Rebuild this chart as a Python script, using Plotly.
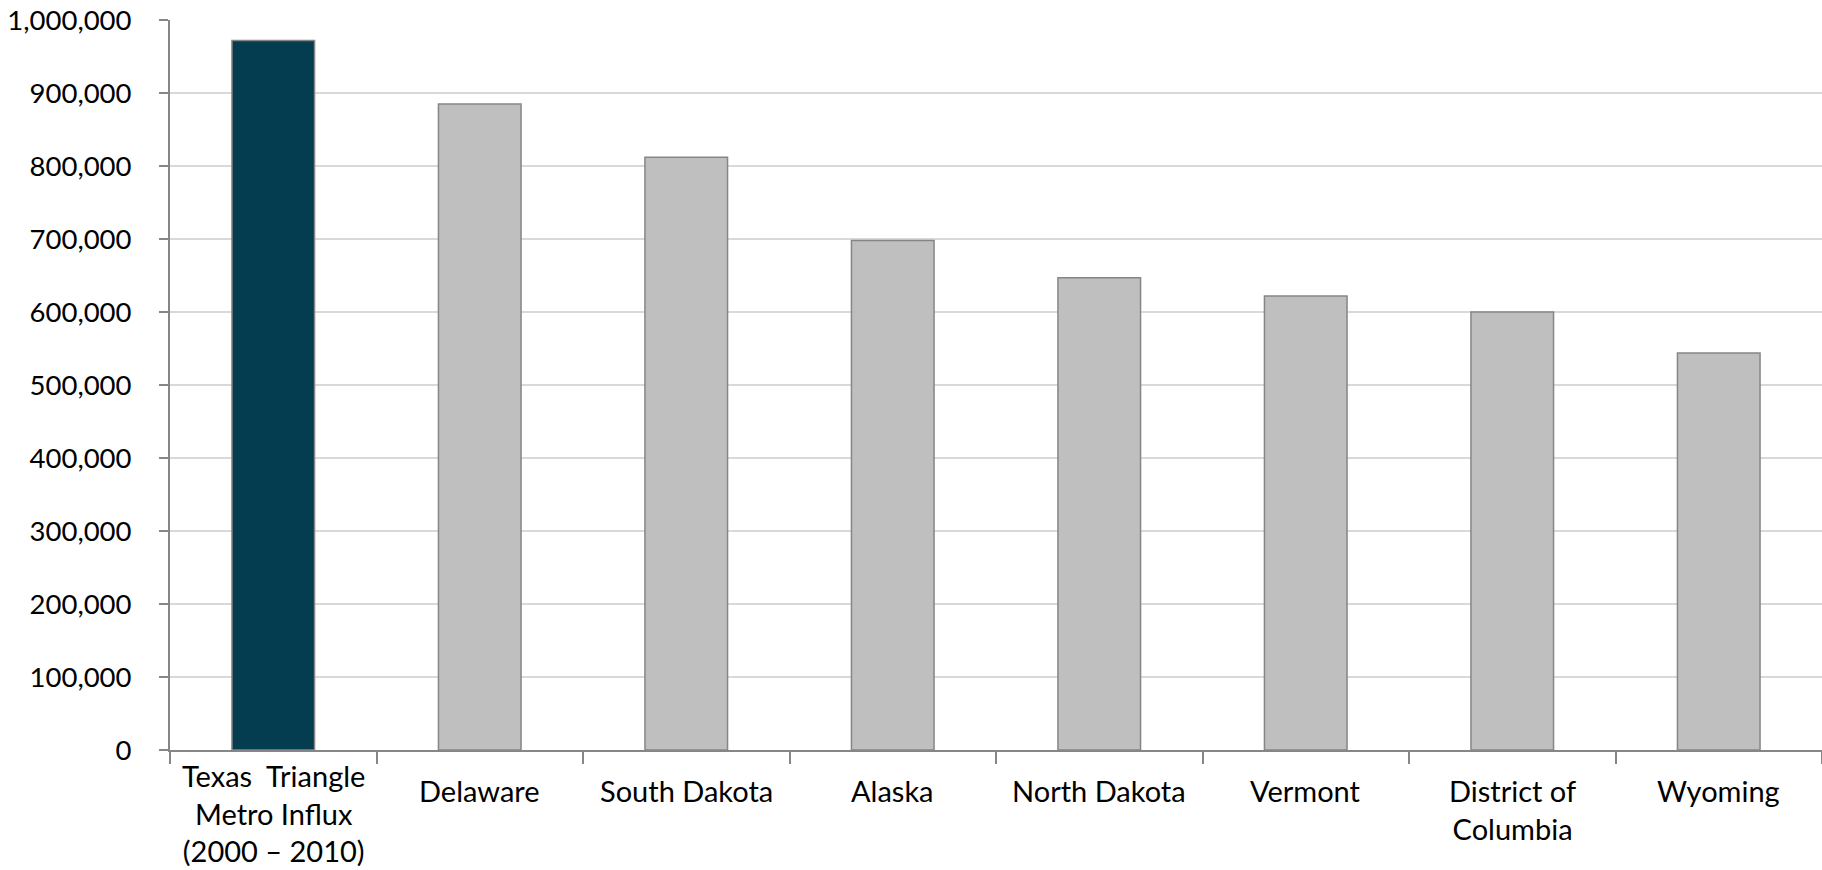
import plotly.graph_objects as go

categories = ["Texas\u00a0 Triangle<br>Metro Influx<br>(2000 – 2010)", "Delaware", "South Dakota", "Alaska",
              "North Dakota", "Vermont", "District of<br>Columbia", "Wyoming"]
values = [972000, 885000, 812000, 698000, 647000, 622000, 600000, 544000]
bar_colors = ["#043C50"] + ["#BFBFBF"] * 7
y_tickvals = [0, 100000, 200000, 300000, 400000, 500000, 600000, 700000, 800000, 900000, 1000000]

fig = go.Figure(go.Bar(
    x=categories, y=values,
    marker=dict(color=bar_colors, line=dict(color="#868686", width=1.5)),
    width=0.4,
))

# category labels as annotations (three-line label sits a bit higher, as in the original)
for i, cat in enumerate(categories):
    nlines = cat.count("<br>") + 1
    fig.add_annotation(
        x=cat, y=0, xref="x", yref="paper", yanchor="top", xanchor="center",
        text=cat, showarrow=False, align="center",
        font=dict(size=29, color="black"),
        yshift=-6 if nlines >= 3 else -21,
    )

fig.update_layout(
    width=1822, height=870,
    margin=dict(l=170, r=0, t=20, b=120),
    paper_bgcolor="white", plot_bgcolor="white",
    font=dict(family="Lato, Carlito, sans-serif", size=28, color="black"),
    showlegend=False,
)
fig.update_xaxes(
    automargin=False, showticklabels=False,
    showline=True, linecolor="#868686", linewidth=2,
    ticks="outside", tickson="boundaries", ticklen=12, tickcolor="#868686", tickwidth=1.5,
    showgrid=False,
)
fig.update_yaxes(
    automargin=False,
    range=[0, 1000000], tickvals=y_tickvals, tickformat=",d",
    showline=True, linecolor="#868686", linewidth=2,
    ticks="outside", ticklen=9, tickcolor="#868686", tickwidth=1.5,
    showgrid=True, gridcolor="#D9D9D9", gridwidth=1.5,
    ticklabelstandoff=22, ticklabeloverflow="allow", tickfont=dict(size=27.5), zeroline=False,
)

fig.write_html("out.html", config={"displayModeBar": False},
               post_script="document.body.style.margin='0';document.body.style.overflow='hidden';")
